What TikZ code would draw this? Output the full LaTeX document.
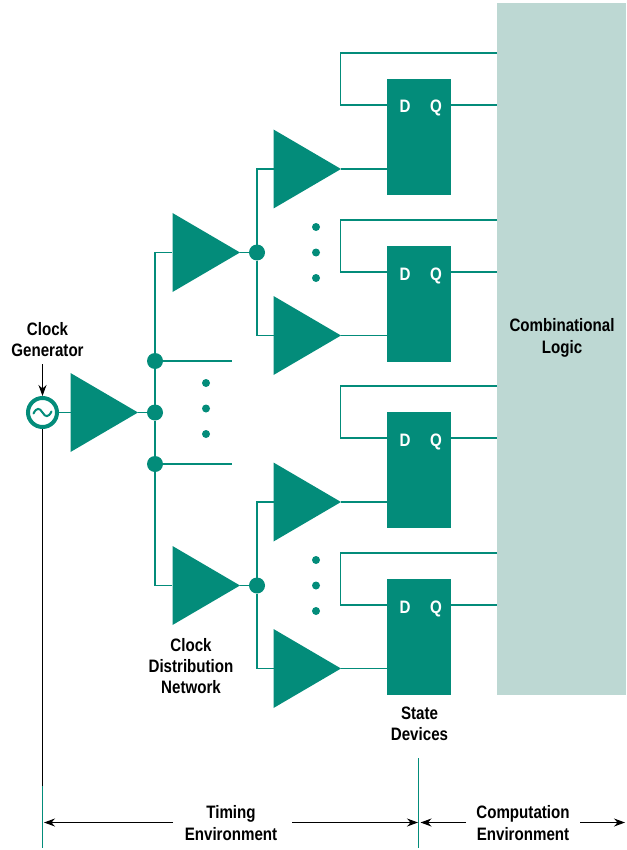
\documentclass[tikz,border=0pt]{standalone}
\usepackage{fontspec}
\setmainfont{Liberation Sans}[BoldFont={Liberation Sans Bold},FakeStretch=0.84]
\usetikzlibrary{shapes.geometric,arrows.meta}
\definecolor{teal1}{RGB}{3,140,122}
\definecolor{logicbg}{RGB}{189,216,211}
\tikzset{
  amp/.style={isosceles triangle,isosceles triangle stretches,shape border rotate=0,fill=teal1,
     minimum width=79pt,minimum height=67.5pt,inner sep=0pt,outer sep=0pt,anchor=apex},
  wire/.style={draw=teal1,line width=1.1pt},
  junct/.style={circle,fill=teal1,minimum size=16pt,inner sep=0pt,outer sep=0pt},
  pip/.style={circle,fill=teal1,minimum size=8pt,inner sep=0pt,outer sep=0pt},
  ffbox/.style={rectangle,fill=teal1,minimum width=64pt,minimum height=116pt,inner sep=0pt,outer sep=0pt,anchor=north west},
  pin/.style={font=\fontsize{18}{20}\selectfont\bfseries,text=white,inner sep=0pt,anchor=base},
  lab/.style={font=\fontsize{18}{21.3}\selectfont\bfseries,align=center,inner sep=0pt,text=black},
  blk/.style={draw=black,line width=1.2pt},
  arr/.style={blk,-{Stealth[length=11pt,width=8pt]}},
}
\newcommand{\ffblock}[3]{% name, top y, clock y
  \node[ffbox] (#1) at (387,#2) {};
  \node[pin] (#1d) at (405,#2+34) {D};
  \node[pin] (#1q) at (436,#2+34) {Q};
  \coordinate (#1i) at (387,#2+26);
  \coordinate (#1o) at (451,#2+26);
  \coordinate (#1c) at (387,#3);
  \coordinate (#1l) at (497,#2+26);
  \coordinate (#1f) at (497,#2-26);
  \draw[wire] (#1o) -- (#1l);
  \draw[wire] (#1f) -- (340.5,#2-26) -- (340.5,#2+26) -- (#1i);
}
\begin{document}
\begin{tikzpicture}[x=1pt,y=-1pt]
\useasboundingbox (0,0) rectangle (626,850);
\node[rectangle,fill=logicbg,minimum width=129pt,minimum height=692pt,inner sep=0pt,outer sep=0pt,anchor=north west] (logic) at (497,3) {};
\node[lab] (logiclab) at (562,338) {Combinational\\Logic};

\ffblock{ffa}{79}{169}
\ffblock{ffb}{246}{335.5}
\ffblock{ffc}{412}{502}
\ffblock{ffd}{579}{668.5}

% last stage amplifiers
\node[amp] (a1) at (341,169) {};
\node[amp] (a2) at (341,335.5) {};
\node[amp] (a3) at (341,502) {};
\node[amp] (a4) at (341,668.5) {};
% middle stage
\node[amp] (m1) at (240,252.5) {};
\node[amp] (m2) at (240,585.5) {};
% first stage
\node[amp] (g) at (138,412.5) {};

\node[junct] (jm1) at (257,252.5) {};
\node[junct] (jm2) at (257,585.5) {};
\node[junct] (j1) at (155,361) {};
\node[junct] (j2) at (155,412.5) {};
\node[junct] (j3) at (155,464) {};

\coordinate (t1) at (232,361);
\coordinate (t3) at (232,464);

\draw[wire] (a1.apex) -- (ffac);
\draw[wire] (a2.apex) -- (ffbc);
\draw[wire] (a3.apex) -- (ffcc);
\draw[wire] (a4.apex) -- (ffdc);
\draw[wire] (m1.apex) -- (jm1);
\draw[wire] (m2.apex) -- (jm2);
\draw[wire] (g.apex) -- (j2);
\draw[wire] (jm1) -- (257,169) -- (273.5,169);
\draw[wire] (jm1) -- (257,335.5) -- (273.5,335.5);
\draw[wire] (jm2) -- (257,502) -- (273.5,502);
\draw[wire] (jm2) -- (257,668.5) -- (273.5,668.5);
\draw[wire] (j1) -- (155,252.5) -- (172,252.5);
\draw[wire] (j3) -- (155,585.5) -- (172,585.5);
\draw[wire] (j1) -- (j2);
\draw[wire] (j2) -- (j3);
\draw[wire] (j1) -- (t1);
\draw[wire] (j3) -- (t3);

\foreach \n/\y in {p1/383,p2/408.5,p3/434}
  \node[pip] (\n) at (206,\y) {};
\foreach \n/\y in {q1/227,q2/252.5,q3/278}
  \node[pip] (\n) at (316,\y) {};
\foreach \n/\y in {r1/560,r2/585.5,r3/611}
  \node[pip] (\n) at (316,\y) {};

% clock generator
\node[circle,draw=teal1,line width=4pt,fill=white,minimum size=29pt,inner sep=0pt,outer sep=2pt] (clk) at (42.5,412.5) {};
\draw[teal1,line width=2pt,line cap=round] (33.5,413.5) .. controls (36.5,407.5) and (39.5,407.5) .. (42.5,412.5) .. controls (45.5,417.5) and (48.5,417.5) .. (51.5,411.5);
\draw[wire] (clk) -- (71,412.5);

\node[lab] (clklab) at (47.5,339.5) {Clock\\Generator};
\coordinate (clkarrow) at (42.5,364);
\draw[arr] (clkarrow) -- (clk.north);

\coordinate (tickA) at (42.5,786);
\coordinate (tickB) at (42.5,848);
\coordinate (tickC) at (418.5,758);
\coordinate (tickD) at (418.5,848);
\draw[blk] (clk.south) -- (tickA);
\draw[draw=teal1,line width=1.1pt] (tickA) -- (tickB);
\draw[draw=teal1,line width=1.1pt] (tickC) -- (tickD);

\node[lab] (cdn) at (191,666) {Clock\\Distribution\\Network};
\node[lab] (sd) at (419.5,723.5) {State\\Devices};
\node[lab] (te) at (231,823) {Timing\\Environment};
\node[lab] (ce) at (523,823) {Computation\\Environment};

\coordinate (d1) at (173,822.5);
\coordinate (d2) at (292,822.5);
\coordinate (d3) at (466,822.5);
\coordinate (d4) at (580,822.5);
\draw[arr] (d1) -- (44,822.5);
\draw[arr] (d2) -- (418,822.5);
\draw[arr] (d3) -- (420.5,822.5);
\draw[arr] (d4) -- (625,822.5);
\end{tikzpicture}
\end{document}
